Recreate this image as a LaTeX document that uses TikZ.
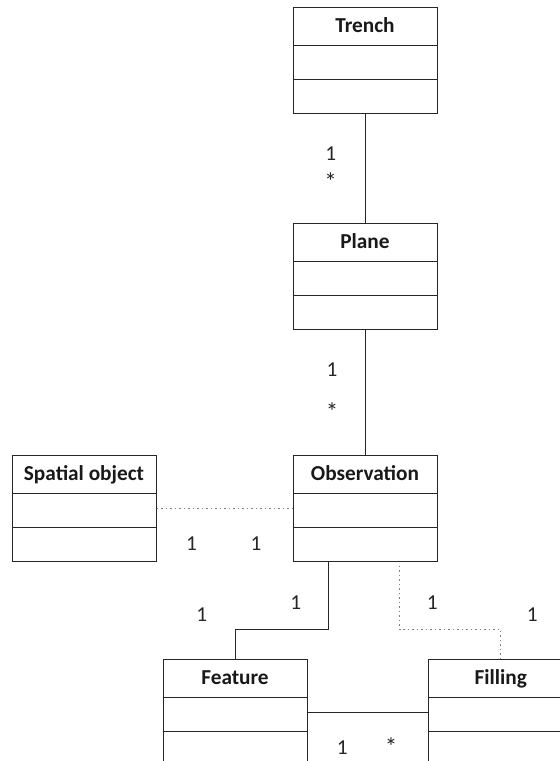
\documentclass[tikz,border=0pt]{standalone}
\usepackage{fontspec}
\setmainfont{Carlito}
\tikzset{
  classbox/.style={draw=black!85, line width=1pt, minimum width=144pt, minimum height=106pt, inner sep=0pt, fill=white},
  classtitle/.style={font=\bfseries\fontsize{21.3}{25}\selectfont, inner sep=0pt, anchor=base, text=black!90},
  mult/.style={font=\fontsize{21.3}{25}\selectfont, inner sep=0pt, text=black!85},
  assoc/.style={draw=black!85, line width=1pt},
  dep/.style={draw=black!50, line width=1pt, dash pattern=on 1.5pt off 3pt},
}
\newcommand\umlbox[3]{%
  \node[classbox] (#1) at (#2) {};
  \draw[assoc] ([yshift=-39pt]#1.north west) -- ([yshift=-39pt]#1.north east);
  \draw[assoc] ([yshift=-73pt]#1.north west) -- ([yshift=-73pt]#1.north east);
  \node[classtitle] (#1-t) at ([yshift=-26pt]#1.north) {#3};
}
\begin{document}
\begin{tikzpicture}[x=1pt,y=-1pt]
\useasboundingbox (0,0) rectangle (560,761);
\umlbox{trench}{365,60}{Trench}
\umlbox{plane}{365,276}{Plane}
\umlbox{obs}{365,508}{Observation}
\umlbox{spat}{84,508}{Spatial object}
\umlbox{feat}{235,712}{Feature}
\umlbox{fill}{500.7,712}{Filling}
% connectors
\draw[assoc] (trench.south) -- (plane.north);
\draw[assoc] (plane.south) -- (obs.north);
\draw[dep] (spat.east) -- (obs.west);
\draw[assoc] ([xshift=36pt]obs.south west) -- ++(0,68) -| (feat.north);
\draw[dep] ([xshift=107pt,yshift=-4pt]obs.south west) -- ++(0,64) -| (fill.north);
\draw[assoc] (feat.east) -- (fill.west);
% multiplicities
\node[mult] (m1) at (330.7,154) {1};
\node[mult] (m2) at (330.7,181.5) {\fontsize{25}{25}\selectfont *};
\node[mult] (m3) at (332,370) {1};
\node[mult] (m4) at (332,411.5) {\fontsize{25}{25}\selectfont *};
\node[mult] (m5) at (191.4,544) {1};
\node[mult] (m6) at (256,544) {1};
\node[mult] (m7) at (201.7,615) {1};
\node[mult] (m8) at (295.7,603) {1};
\node[mult] (m9) at (432.3,603) {1};
\node[mult] (m10) at (532.3,615) {1};
\node[mult] (m11) at (342.3,748) {1};
\node[mult] (m12) at (391,746.5) {\fontsize{25}{25}\selectfont *};
\end{tikzpicture}
\end{document}
